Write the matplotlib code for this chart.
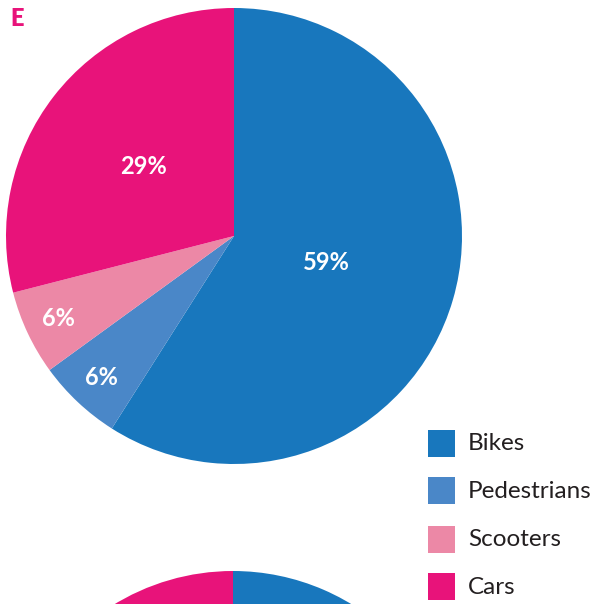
import numpy as np
import matplotlib.pyplot as plt

labels = ['Bikes', 'Pedestrians', 'Scooters', 'Cars']
shares = [59, 6, 6, 29]
# next panel's pie, only its top edge shows at the bottom of the picture
next_shares = [52, 6, 6, 36]
colors = ['#1877bd', '#4a87c8', '#ec88a6', '#e8137a']

W, H = 597, 604
fig = plt.figure(figsize=(W / 100, H / 100), dpi=100)
ax = fig.add_axes([0, 0, 1, 1])

wedges, _, autotexts = ax.pie(shares, colors=colors, startangle=90, counterclock=False,
                              center=(234, H - 236), radius=228, frame=True,
                              autopct=lambda p: '%d%%' % round(p),
                              wedgeprops=dict(linewidth=0),
                              textprops=dict(color='white', fontsize=17,
                                             fontweight='bold', family='Lato'))

# push the small labels out toward the rim
dists = [0.42, 0.85, 0.85, 0.5]
for w, t, d in zip(wedges, autotexts, dists):
    ang = np.deg2rad((w.theta1 + w.theta2) / 2)
    t.set_position((234 + d * 228 * np.cos(ang), H - 236 + d * 228 * np.sin(ang)))
    t.set_ha('center')
    t.set_va('center')

ax.pie(next_shares, colors=colors, startangle=90, counterclock=False,
       center=(233, H - 799), radius=228, frame=True,
       wedgeprops=dict(linewidth=0))

ax.set_xlim(0, W)
ax.set_ylim(0, H)
ax.set_aspect('equal')
ax.axis('off')

ax.text(10, H - 19, 'E', color='#e8137a', fontsize=17, fontweight='heavy',
        family='Lato', ha='left', va='center')

legend_y = [444, 491, 540, 587]
for lab, col, y in zip(labels, colors, legend_y):
    ax.add_patch(plt.Rectangle((428, H - y - 13), 27, 27, color=col, lw=0))
    ax.text(468, H - y, lab, fontsize=17.5, family='Lato', color='#231f20',
            ha='left', va='center')

fig.savefig('out.png', dpi=100)
